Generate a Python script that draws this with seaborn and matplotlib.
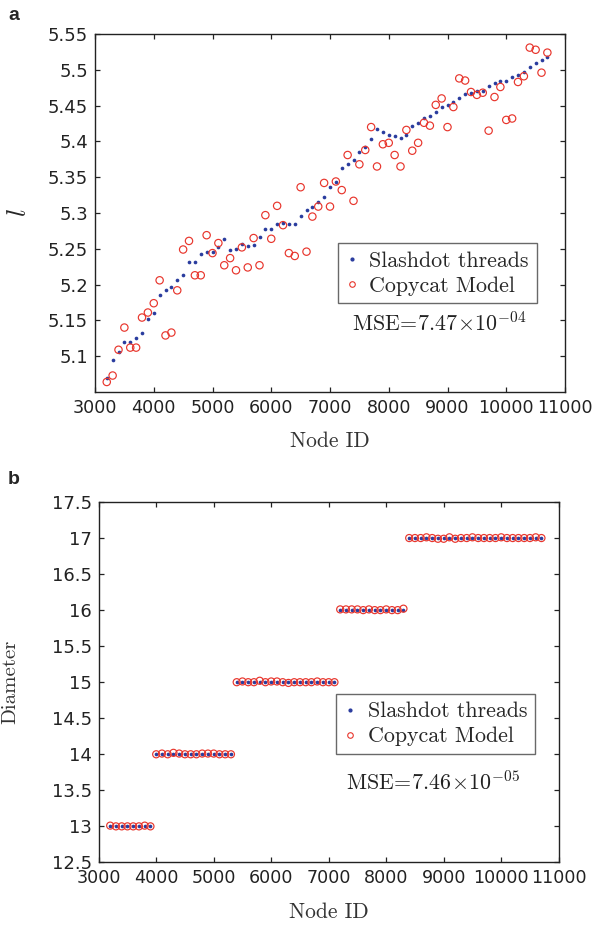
import matplotlib
matplotlib.use("Agg")
import matplotlib.pyplot as plt
import numpy as np
import pandas as pd
import seaborn as sns
from matplotlib.lines import Line2D
from matplotlib.ticker import FuncFormatter

# ---------------- data ----------------
node_ids = [3200, 3300, 3400, 3500, 3600, 3700, 3800, 3900, 4000, 4100,
            4200, 4300, 4400, 4500, 4600, 4700, 4800, 4900, 5000, 5100,
            5200, 5300, 5400, 5500, 5600, 5700, 5800, 5900, 6000, 6100,
            6200, 6300, 6400, 6500, 6600, 6700, 6800, 6900, 7000, 7100,
            7200, 7300, 7400, 7500, 7600, 7700, 7800, 7900, 8000, 8100,
            8200, 8300, 8400, 8500, 8600, 8700, 8800, 8900, 9000, 9100,
            9200, 9300, 9400, 9500, 9600, 9700, 9800, 9900, 10000, 10100,
            10200, 10300, 10400, 10500, 10600, 10700]

l_slashdot = [5.070, 5.095, 5.106, 5.120, 5.120, 5.125, 5.133, 5.152, 5.161, 5.186,
              5.192, 5.197, 5.206, 5.214, 5.232, 5.231, 5.243, 5.246, 5.246, 5.253,
              5.264, 5.249, 5.250, 5.257, 5.254, 5.256, 5.266, 5.278, 5.277, 5.285,
              5.286, 5.284, 5.284, 5.296, 5.304, 5.308, 5.316, 5.323, 5.337, 5.343,
              5.363, 5.369, 5.374, 5.385, 5.392, 5.404, 5.417, 5.413, 5.409, 5.407,
              5.405, 5.409, 5.422, 5.426, 5.433, 5.436, 5.441, 5.448, 5.451, 5.455,
              5.461, 5.466, 5.467, 5.470, 5.470, 5.477, 5.481, 5.484, 5.484, 5.490,
              5.493, 5.497, 5.504, 5.509, 5.513, 5.518]

l_copycat = [5.064, 5.073, 5.109, 5.140, 5.112, 5.112, 5.154, 5.161, 5.174, 5.206,
             5.129, 5.133, 5.192, 5.249, 5.261, 5.213, 5.213, 5.269, 5.244, 5.258,
             5.227, 5.237, 5.220, 5.252, 5.224, 5.265, 5.227, 5.297, 5.264, 5.310,
             5.283, 5.244, 5.240, 5.336, 5.246, 5.295, 5.309, 5.342, 5.309, 5.344,
             5.332, 5.381, 5.317, 5.368, 5.388, 5.420, 5.365, 5.396, 5.398, 5.381,
             5.365, 5.416, 5.387, 5.398, 5.426, 5.422, 5.451, 5.460, 5.420, 5.448,
             5.488, 5.485, 5.469, 5.465, 5.468, 5.415, 5.462, 5.476, 5.430, 5.432,
             5.483, 5.491, 5.531, 5.528, 5.496, 5.524]

diam_slashdot = [13, 13, 13, 13, 13, 13, 13, 13,
                 14, 14, 14, 14, 14, 14, 14, 14, 14, 14, 14, 14, 14, 14,
                 15, 15, 15, 15, 15, 15, 15, 15, 15, 15, 15, 15, 15, 15, 15, 15, 15, 15,
                 16, 16, 16, 16, 16, 16, 16, 16, 16, 16, 16, 16,
                 17, 17, 17, 17, 17, 17, 17, 17, 17, 17, 17, 17,
                 17, 17, 17, 17, 17, 17, 17, 17, 17, 17, 17, 17]

diam_copycat = [13.01, 13, 13, 13, 13, 13, 13.01, 13,
                14, 14.01, 14, 14.02, 14.01, 14, 14, 14, 14.01, 14.01, 14.01, 14, 14, 14,
                15, 15.01, 15, 15, 15.02, 15, 15.01, 15.01, 15, 14.99, 15, 15, 15, 15, 15.01, 15, 15, 15,
                16.01, 16.01, 16.01, 16.01, 16, 16.01, 16, 16, 16.01, 16, 16, 16.02,
                17, 17, 17, 17.01, 17, 16.99, 16.99, 17.01, 16.99, 17, 17, 17.01,
                17, 17, 17, 17, 17.01, 17, 17, 17, 17, 17, 17.01, 17]

series_names = ["Slashdot threads", "Copycat Model"]
mse_texts = [r"$\mathrm{MSE}\!=\!7.47\!\times\!10^{-04}$",
             r"$\mathrm{MSE}\!=\!7.46\!\times\!10^{-05}$"]
x_ticks = [3000, 4000, 5000, 6000, 7000, 8000, 9000, 10000, 11000]
top_yticks = [5.1, 5.15, 5.2, 5.25, 5.3, 5.35, 5.4, 5.45, 5.5, 5.55]
bot_yticks = [12.5, 13, 13.5, 14, 14.5, 15, 15.5, 16, 16.5, 17, 17.5]

# ---------------- style ----------------
sns.set_theme(style="ticks")
plt.rcParams["font.family"] = ["DejaVu Sans"]
plt.rcParams["mathtext.fontset"] = "cm"
plt.rcParams["axes.linewidth"] = 1.0
plt.rcParams["axes.edgecolor"] = "#222222"
plt.rcParams["xtick.direction"] = "in"
plt.rcParams["ytick.direction"] = "in"
plt.rcParams["xtick.top"] = True
plt.rcParams["ytick.right"] = True
plt.rcParams["xtick.major.size"] = 3.5
plt.rcParams["ytick.major.size"] = 3.5
plt.rcParams["xtick.major.width"] = 0.9
plt.rcParams["ytick.major.width"] = 0.9
plt.rcParams["xtick.color"] = "#222222"
plt.rcParams["ytick.color"] = "#222222"

BLUE = "#2a3c9e"
RED = "#e8352c"

df = pd.DataFrame({"node": node_ids, "l_s": l_slashdot, "l_c": l_copycat,
                   "d_s": diam_slashdot, "d_c": diam_copycat})

fig = plt.figure(figsize=(5.98, 9.25), dpi=100)
W, H = 598.0, 925.0
ax1 = fig.add_axes([95 / W, (H - 392) / H, 470 / W, 358 / H])
ax2 = fig.add_axes([98.7 / W, (H - 862.4) / H, 460 / W, 360.4 / H])

fmt = FuncFormatter(lambda v, p: "%g" % v)


def draw(ax, ys, yc, ylim, yticks, dot_s, circ_s):
    sns.scatterplot(data=df, x="node", y=ys, ax=ax, color=BLUE, s=dot_s,
                    linewidth=0, marker="o", zorder=3, legend=False)
    sns.scatterplot(data=df, x="node", y=yc, ax=ax, s=circ_s, marker="o",
                    facecolor="none", edgecolor=RED, linewidth=0.85,
                    zorder=4, legend=False)
    ax.set_xlim(3000, 11000)
    ax.set_ylim(*ylim)
    ax.set_xticks(x_ticks)
    ax.set_yticks(yticks)
    ax.xaxis.set_major_formatter(fmt)
    ax.yaxis.set_major_formatter(fmt)
    ax.tick_params(axis="x", labelsize=12.6, pad=5, colors="#222222")
    ax.tick_params(axis="y", labelsize=13, pad=5, colors="#222222")
    for lab in ax.get_xticklabels() + ax.get_yticklabels():
        lab.set_color("#222222")
    ax.set_xlabel("Node ID", family="cmr10", fontsize=15.5, color="#333333")


draw(ax1, "l_s", "l_c", (5.05, 5.55), top_yticks, 7, 28)
draw(ax2, "d_s", "d_c", (12.5, 17.5), bot_yticks, 7, 26)

ax1.set_ylabel(r"$l$", fontsize=19, rotation=90)
ax1.yaxis.set_label_coords(-0.135, 0.5)
ax1.xaxis.set_label_coords(0.5, -0.11)
ax2.set_ylabel("Diameter", family="cmr10", fontsize=15, color="#333333")
ax2.yaxis.set_label_coords(-0.172, 0.5)
ax2.xaxis.set_label_coords(0.5, -0.11)

handles = [Line2D([], [], linestyle="none", marker="o", markersize=2,
                  markerfacecolor=BLUE, markeredgecolor=BLUE),
           Line2D([], [], linestyle="none", marker="o", markersize=4,
                  markerfacecolor="none", markeredgecolor=RED, markeredgewidth=0.8)]

for ax, anchor, mse, mpos in [(ax1, (0.516, 0.415), mse_texts[0], (0.732, 0.193)),
                              (ax2, (0.516, 0.467), mse_texts[1], (0.726, 0.223))]:
    leg = ax.legend(handles, series_names, loc="upper left", bbox_to_anchor=anchor,
                    borderaxespad=0, frameon=True, fancybox=False,
                    prop={"family": "cmr10", "size": 15.8},
                    handlelength=0.6, handletextpad=0.5, borderpad=0.35,
                    labelspacing=0.25)
    leg.get_frame().set_edgecolor("#444444")
    leg.get_frame().set_linewidth(1.0)
    ax.text(mpos[0], mpos[1], mse, transform=ax.transAxes, ha="center",
            va="center", fontsize=15.8, color="#222222")

fig.text(14 / W, 1 - 16 / H, "a", family="Liberation Sans", weight="bold",
         fontsize=14, ha="center", va="center")
fig.text(14 / W, 1 - 480 / H, "b", family="Liberation Sans", weight="bold",
         fontsize=14, ha="center", va="center")

fig.savefig("out.png", dpi=100)
